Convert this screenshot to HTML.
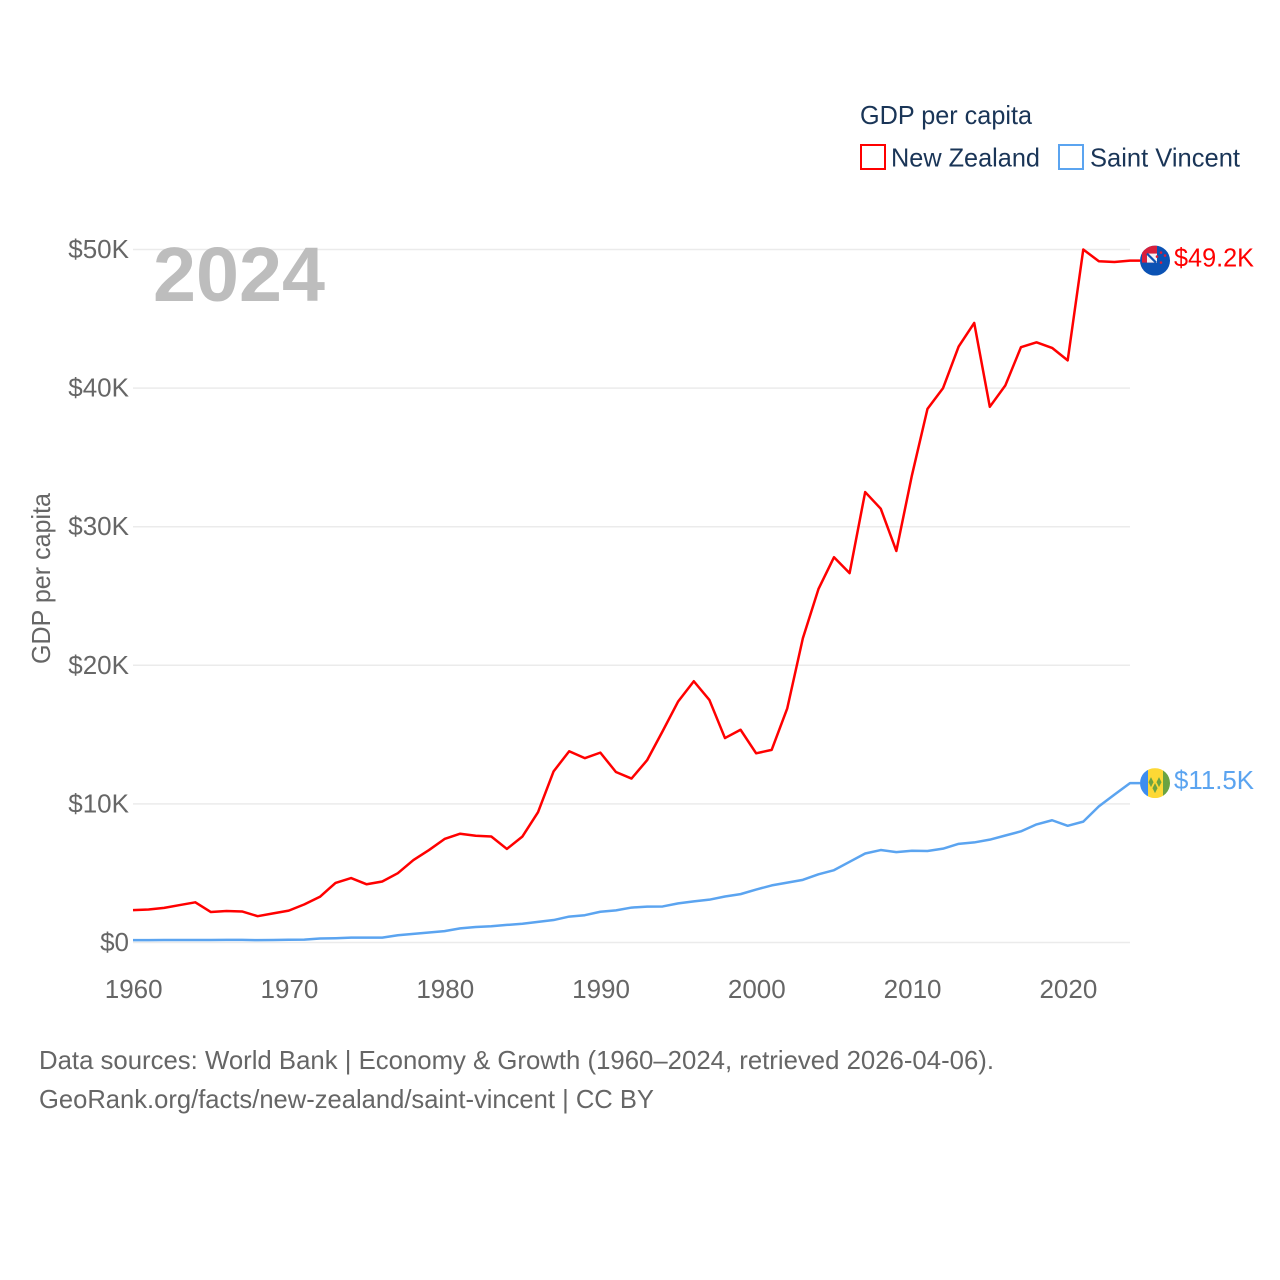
<!DOCTYPE html>
<html lang="en">
<head>
<meta charset="utf-8">
<title>GDP per capita: New Zealand and Saint Vincent</title>
<style>
html,body{margin:0;padding:0;background:#fff;width:1280px;height:1280px;overflow:hidden}
svg{display:block}
text{font-family:"Liberation Sans",sans-serif;font-size:26px}
</style>
</head>
<body>
<svg id="chart" xmlns="http://www.w3.org/2000/svg" width="1280" height="1280" viewBox="0 0 1280 1280">
  <defs>
    <clipPath id="flag-clip-nz"><circle id="clip-nz" r="15"></circle></clipPath>
    <clipPath id="flag-clip-vc"><circle id="clip-vc" r="15"></circle></clipPath>
  </defs>
  <g id="grid"></g>
  <g id="yticks"></g>
  <g id="xticks"></g>
  <text x="153" y="301" textLength="172" lengthAdjust="spacingAndGlyphs" style="font-size:77px;font-weight:bold" fill="#bdbdbd">2024</text>
  <text x="0" y="0" transform="translate(50,578.5) rotate(-90)" text-anchor="middle" textLength="171" lengthAdjust="spacingAndGlyphs" fill="#666666">GDP per capita</text>
  <g id="series"></g>
  <g id="flags"></g>
  <g id="endlabels"></g>

  <g>
    <text x="860" y="124" textLength="172" lengthAdjust="spacingAndGlyphs" fill="#1a3557">GDP per capita</text>
    <rect x="861" y="145" width="24" height="24" fill="none" stroke="#ff0000" stroke-width="2"></rect>
    <text x="891" y="166.5" textLength="149" lengthAdjust="spacingAndGlyphs" fill="#1a3557">New Zealand</text>
    <rect x="1059" y="145" width="24" height="24" fill="none" stroke="#5ba4f0" stroke-width="2"></rect>
    <text x="1090" y="166.5" textLength="150" lengthAdjust="spacingAndGlyphs" fill="#1a3557">Saint Vincent</text>
  </g>

  <g>
    <text x="39" y="1069" textLength="955" lengthAdjust="spacingAndGlyphs" fill="#666666">Data sources: World Bank | Economy &amp; Growth (1960–2024, retrieved 2026-04-06).</text>
    <text x="39" y="1108" textLength="615" lengthAdjust="spacingAndGlyphs" fill="#666666">GeoRank.org/facts/new-zealand/saint-vincent | CC BY</text>
  </g>
</svg>
<script>
const startYear = 1960;
const endYear = 2024;
const yTickValues = [0, 10, 20, 30, 40, 50];
const yTickLabels = ["$0", "$10K", "$20K", "$30K", "$40K", "$50K"];
const xTickValues = [1960, 1970, 1980, 1990, 2000, 2010, 2020];
const xTickLabels = ["1960", "1970", "1980", "1990", "2000", "2010", "2020"];
const newZealand = [2.34,2.38,2.5,2.7,2.9,2.2,2.27,2.24,1.9,2.1,2.3,2.75,3.3,4.3,4.65,4.2,4.4,5.0,5.95,6.67,7.47,7.85,7.7,7.65,6.75,7.65,9.4,12.35,13.8,13.3,13.7,12.3,11.83,13.15,15.25,17.4,18.85,17.5,14.75,15.35,13.65,13.9,16.9,21.95,25.5,27.8,26.65,32.5,31.3,28.25,33.7,38.5,40,43,44.7,38.65,40.2,42.95,43.3,42.9,42,50,49.15,49.1,49.2];
const saintVincent = [0.17,0.17,0.18,0.18,0.18,0.18,0.19,0.19,0.17,0.18,0.2,0.21,0.29,0.31,0.35,0.35,0.35,0.52,0.62,0.72,0.82,1.02,1.12,1.17,1.27,1.35,1.49,1.62,1.87,1.97,2.22,2.32,2.52,2.59,2.6,2.82,2.97,3.09,3.32,3.49,3.82,4.12,4.32,4.52,4.92,5.22,5.82,6.42,6.67,6.52,6.62,6.6,6.77,7.12,7.22,7.42,7.72,8.02,8.52,8.82,8.42,8.72,9.82,10.67,11.5];
const newZealandLabel = "$49.2K";
const saintVincentLabel = "$11.5K";

const NS = 'http://www.w3.org/2000/svg';
function xScale(year) { return 133 + (year - startYear) * (1130 - 133) / (endYear - startYear); }
function yScale(v) { return 942.5 - v * (942.5 - 249.5) / 50; }
function make(tag, attrs, parent) {
  const el = document.createElementNS(NS, tag);
  for (const k in attrs) el.setAttribute(k, attrs[k]);
  parent.appendChild(el);
  return el;
}

const grid = document.getElementById('grid');
const yticks = document.getElementById('yticks');
const xticks = document.getElementById('xticks');
yTickValues.forEach(function (v, i) {
  const line = make('line', { x1: 133, x2: 1130, y1: yScale(v), y2: yScale(v), stroke: '#ebebeb', 'stroke-width': 1.5 }, grid);
  
  
  const label = make('text', { x: 129, y: yScale(v) + 8.5, 'text-anchor': 'end', fill: '#666666' }, yticks);
  
  
  label.textContent = yTickLabels[i];
});
xTickValues.forEach(function (year, i) {
  const label = make('text', { x: xScale(year) + 0.7, y: 998, 'text-anchor': 'middle', fill: '#666666' }, xticks);
  
  
  label.textContent = xTickLabels[i];
});

function linePoints(values) {
  const pts = values.map(function (v, i) { return xScale(startYear + i).toFixed(2) + ',' + yScale(v).toFixed(2); });
  pts.push('1140,' + yScale(values[values.length - 1]).toFixed(2));
  return pts.join(' ');
}
const series = document.getElementById('series');
const nzLine = make('polyline', { points: linePoints(newZealand), fill: 'none', stroke: '#ff0000', 'stroke-width': 2.5, 'stroke-linejoin': 'round' }, series);


const vcLine = make('polyline', { points: linePoints(saintVincent), fill: 'none', stroke: '#5ba4f0', 'stroke-width': 2.5, 'stroke-linejoin': 'round' }, series);



const flags = document.getElementById('flags');
const endlabels = document.getElementById('endlabels');
const nzY = yScale(newZealand[newZealand.length - 1]);
const vcY = yScale(saintVincent[saintVincent.length - 1]);
const cx = 1155;

document.getElementById('clip-nz').setAttribute('cx', cx);
document.getElementById('clip-nz').setAttribute('cy', nzY);
document.getElementById('clip-vc').setAttribute('cx', cx);
document.getElementById('clip-vc').setAttribute('cy', vcY);

const nzFlag = make('g', { 'clip-path': 'url(#flag-clip-nz)' }, flags);


make('rect', { x: cx - 15, y: nzY - 15, width: 30, height: 30, fill: '#0b52b4' }, nzFlag);
make('rect', { x: cx - 13, y: nzY - 15, width: 15, height: 17, fill: '#d8203c' }, nzFlag);
make('rect', { x: cx - 8, y: nzY - 7, width: 10, height: 9, fill: '#f3f3f6' }, nzFlag);
make('path', { d: 'M' + (cx - 8) + ' ' + (nzY - 7) + 'l9 9', stroke: '#0b52b4', 'stroke-width': 2.2, fill: 'none' }, nzFlag);
[[6, -8], [10, -5], [2, -4], [6, 2]].forEach(function (o) {
  make('circle', { cx: cx + o[0], cy: nzY + o[1], r: 1.3, fill: '#d8203c' }, nzFlag);
});

const vcFlag = make('g', { 'clip-path': 'url(#flag-clip-vc)' }, flags);


make('rect', { x: cx - 15, y: vcY - 15, width: 8, height: 30, fill: '#3d8df0' }, vcFlag);
make('rect', { x: cx - 7, y: vcY - 15, width: 15, height: 30, fill: '#fdd835' }, vcFlag);
make('rect', { x: cx + 8, y: vcY - 15, width: 7, height: 30, fill: '#6aa342' }, vcFlag);
[[-4, -1], [4, -1], [0, 5]].forEach(function (o) {
  const px = cx + o[0];
  const py = vcY + o[1];
  make('path', { d: 'M' + px + ' ' + (py - 5) + 'l2.5 5l-2.5 5l-2.5 -5z', fill: '#6aa342' }, vcFlag);
});

const nzLabel = make('text', { x: 1174, y: nzY + 6, textLength: 80, lengthAdjust: 'spacingAndGlyphs', fill: '#ff0000' }, endlabels);


nzLabel.textContent = newZealandLabel;
const vcLabel = make('text', { x: 1174, y: vcY + 6, textLength: 80, lengthAdjust: 'spacingAndGlyphs', fill: '#5ba4f0' }, endlabels);


vcLabel.textContent = saintVincentLabel;
</script>
</body>
</html>
